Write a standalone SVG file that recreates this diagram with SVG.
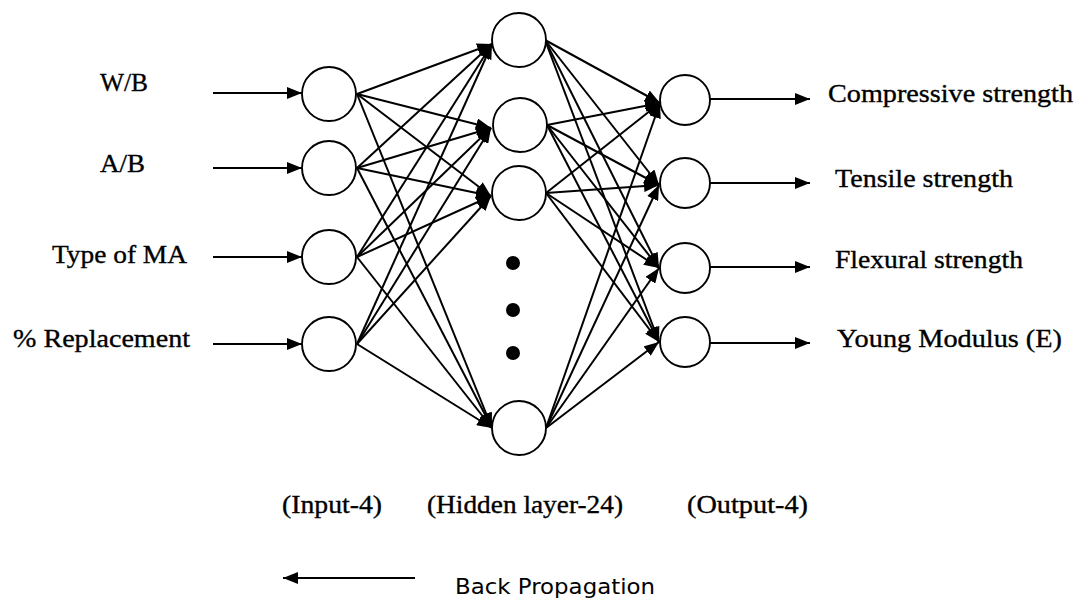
<svg xmlns="http://www.w3.org/2000/svg" width="1077" height="599" viewBox="0 0 1077 599">
<style>
.n{fill:#fff;stroke:#000;stroke-width:1.9}
.c line{stroke:#000;stroke-width:2;marker-end:url(#ah)}
.t{font-family:"Liberation Serif","Times New Roman",serif;font-size:26px;fill:#000;stroke:#000;stroke-width:0.35}
.s{font-family:"DejaVu Sans",Verdana,sans-serif;font-size:21px;fill:#000}
.d{fill:#000}
</style>
<defs>
<marker id="ah" markerUnits="userSpaceOnUse" markerWidth="15" markerHeight="12" viewBox="0 0 15 12" refX="15" refY="6" orient="auto">
<path d="M0,0 L15,6 L0,12 z" fill="#000"/>
</marker>
</defs>
<rect width="1077" height="599" fill="#fff"/>
<g id="connectors" class="c">
<line x1="213" y1="93" x2="302" y2="93"/>
<line x1="213" y1="168" x2="302" y2="168"/>
<line x1="213" y1="257" x2="302" y2="257"/>
<line x1="213" y1="344" x2="302" y2="344"/>
<line x1="357" y1="94" x2="492" y2="44"/>
<line x1="357" y1="94" x2="491" y2="128"/>
<line x1="357" y1="94" x2="491" y2="196"/>
<line x1="357" y1="94" x2="492" y2="428"/>
<line x1="357" y1="168" x2="492" y2="44"/>
<line x1="357" y1="168" x2="491" y2="128"/>
<line x1="357" y1="168" x2="491" y2="196"/>
<line x1="357" y1="168" x2="492" y2="428"/>
<line x1="357" y1="257" x2="492" y2="44"/>
<line x1="357" y1="257" x2="491" y2="128"/>
<line x1="357" y1="257" x2="491" y2="196"/>
<line x1="357" y1="257" x2="492" y2="428"/>
<line x1="357" y1="344" x2="492" y2="44"/>
<line x1="357" y1="344" x2="491" y2="128"/>
<line x1="357" y1="344" x2="491" y2="196"/>
<line x1="357" y1="344" x2="492" y2="428"/>
<line x1="545" y1="40" x2="660" y2="103"/>
<line x1="545" y1="40" x2="659" y2="185"/>
<line x1="545" y1="40" x2="659" y2="268"/>
<line x1="545" y1="40" x2="659" y2="342"/>
<line x1="547" y1="125" x2="660" y2="103"/>
<line x1="547" y1="125" x2="659" y2="185"/>
<line x1="547" y1="125" x2="659" y2="268"/>
<line x1="547" y1="125" x2="659" y2="342"/>
<line x1="546" y1="193" x2="660" y2="103"/>
<line x1="546" y1="193" x2="659" y2="185"/>
<line x1="546" y1="193" x2="659" y2="268"/>
<line x1="546" y1="193" x2="659" y2="342"/>
<line x1="546" y1="428" x2="660" y2="103"/>
<line x1="546" y1="428" x2="659" y2="185"/>
<line x1="546" y1="428" x2="659" y2="268"/>
<line x1="546" y1="428" x2="659" y2="342"/>
<line x1="710" y1="99" x2="810" y2="99"/>
<line x1="710" y1="183" x2="810" y2="183"/>
<line x1="710" y1="267" x2="810" y2="267"/>
<line x1="710" y1="343" x2="810" y2="343"/>
<line x1="415" y1="578" x2="283" y2="578"/>
</g>
<g id="in1"><circle class="n" cx="329" cy="94" r="27"/></g>
<g id="in2"><circle class="n" cx="329" cy="168" r="27"/></g>
<g id="in3"><circle class="n" cx="329" cy="257" r="27"/></g>
<g id="in4"><circle class="n" cx="329" cy="344" r="27"/></g>
<g id="h1"><circle class="n" cx="519" cy="40" r="27"/></g>
<g id="h2"><circle class="n" cx="520" cy="125" r="27"/></g>
<g id="h3"><circle class="n" cx="519" cy="193" r="27"/></g>
<g id="h24"><circle class="n" cx="519" cy="428" r="27"/></g>
<g id="dots">
<circle class="d" cx="513" cy="263" r="7"/>
<circle class="d" cx="513" cy="310" r="7"/>
<circle class="d" cx="513" cy="353" r="7"/>
</g>
<g id="o1"><circle class="n" cx="685" cy="100" r="25"/></g>
<g id="o2"><circle class="n" cx="685" cy="183" r="25"/></g>
<g id="o3"><circle class="n" cx="685" cy="268" r="25"/></g>
<g id="o4"><circle class="n" cx="685" cy="342" r="25"/></g>
<g id="labels">
<text class="t" x="100" y="91" textLength="48" lengthAdjust="spacingAndGlyphs">W/B</text>
<text class="t" x="100" y="172" textLength="45" lengthAdjust="spacingAndGlyphs">A/B</text>
<text class="t" x="52" y="263" textLength="135" lengthAdjust="spacingAndGlyphs">Type of MA</text>
<text class="t" x="13" y="347" textLength="177" lengthAdjust="spacingAndGlyphs">% Replacement</text>
<text class="t" x="828" y="102" textLength="245" lengthAdjust="spacingAndGlyphs">Compressive strength</text>
<text class="t" x="835" y="187" textLength="178" lengthAdjust="spacingAndGlyphs">Tensile strength</text>
<text class="t" x="835" y="268" textLength="188" lengthAdjust="spacingAndGlyphs">Flexural strength</text>
<text class="t" x="837" y="347" textLength="225" lengthAdjust="spacingAndGlyphs">Young Modulus (E)</text>
<text class="t" x="282" y="513" textLength="100" lengthAdjust="spacingAndGlyphs">(Input-4)</text>
<text class="t" x="427" y="513" textLength="196" lengthAdjust="spacingAndGlyphs">(Hidden layer-24)</text>
<text class="t" x="687" y="513" textLength="121" lengthAdjust="spacingAndGlyphs">(Output-4)</text>
<text class="s" x="455" y="594" textLength="200" lengthAdjust="spacingAndGlyphs">Back Propagation</text>
</g>
</svg>
